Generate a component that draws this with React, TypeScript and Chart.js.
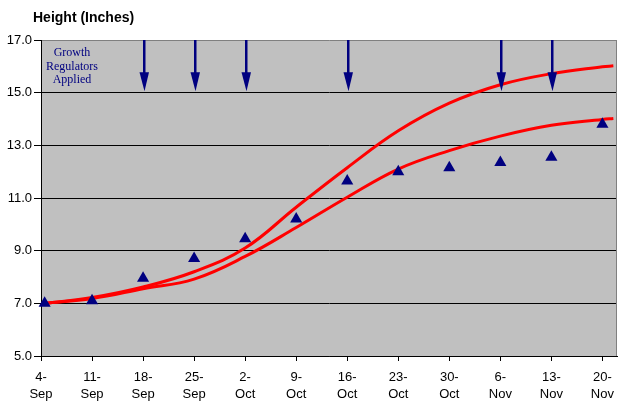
import { useEffect, useRef } from 'react';
import { Chart, registerables } from 'chart.js';

Chart.register(...registerables);

// ---- data ----
const weekLabels: string[][] = [
  ['4-', 'Sep'], ['11-', 'Sep'], ['18-', 'Sep'], ['25-', 'Sep'],
  ['2-', 'Oct'], ['9-', 'Oct'], ['16-', 'Oct'], ['23-', 'Oct'],
  ['30-', 'Oct'], ['6-', 'Nov'], ['13-', 'Nov'], ['20-', 'Nov'],
];
const tickDays = [0, 7, 14, 21, 28, 35, 42, 49, 56, 63, 70, 77];
const measuredDays = [0.5, 7, 14, 21, 28, 35, 42, 49, 56, 63, 70, 77];
const measuredHeights = [7.0, 7.1, 7.95, 8.7, 9.45, 10.2, 11.65, 12.0, 12.15, 12.35, 12.55, 13.8];
const curveDays = [0.5, 7, 14, 21, 28, 35, 42, 49, 56, 63, 70, 77, 78.5];
const upperCurve = [7.0, 7.22, 7.62, 8.2, 9.1, 10.65, 12.15, 13.55, 14.6, 15.3, 15.72, 15.98, 16.02];
const lowerCurve = [7.0, 7.18, 7.55, 7.92, 8.78, 9.88, 11.03, 12.1, 12.8, 13.35, 13.76, 13.98, 14.02];
const arrowDays = [14, 21, 28, 42, 63, 70];
const arrowTipValue = 15.05;
const yTicks = [5, 7, 9, 11, 13, 15, 17];
const xMin = 0;
const xMax = 79;
const yMin = 5;
const yMax = 17;
const titleText = 'Height (Inches)';
const noteLines = ['Growth', 'Regulators', 'Applied'];

const NAVY = '#000080';
const SANS = '"Liberation Sans", Arial, sans-serif';
const SERIF = '"Liberation Serif", "Times New Roman", serif';

const decorPlugin = {
  id: 'decor',
  beforeDraw(chart: any) {
    const { ctx, chartArea: a } = chart;
    ctx.save();
    ctx.fillStyle = '#ffffff';
    ctx.fillRect(0, 0, chart.width, chart.height);
    ctx.fillStyle = '#c0c0c0';
    ctx.fillRect(a.left, a.top, a.right - a.left, a.bottom - a.top);
    ctx.restore();
  },
  beforeDatasetsDraw(chart: any) {
    const { ctx, chartArea: a } = chart;
    ctx.save();
    ctx.strokeStyle = '#808080';
    ctx.lineWidth = 1;
    ctx.beginPath();
    ctx.moveTo(Math.round(a.right) - 0.5, a.top);
    ctx.lineTo(Math.round(a.right) - 0.5, a.bottom);
    ctx.stroke();
    ctx.restore();
  },
  afterDatasetsDraw(chart: any) {
    const { ctx, scales } = chart;
    const xs = scales.x;
    const ys = scales.y;
    ctx.save();
    ctx.fillStyle = NAVY;
    const top = ys.getPixelForValue(yMax);
    const tip = ys.getPixelForValue(arrowTipValue);
    arrowDays.forEach((d) => {
      const x = Math.round(xs.getPixelForValue(d)) + 1;
      const headLen = 19;
      ctx.fillRect(x - 1, top, 2.5, tip - top - headLen + 2);
      ctx.beginPath();
      ctx.moveTo(x - 4.5, tip - headLen);
      ctx.lineTo(x + 5, tip - headLen);
      ctx.lineTo(x + 0.5, tip);
      ctx.closePath();
      ctx.fill();
    });
    ctx.restore();
  },
  afterDraw(chart: any) {
    const { ctx } = chart;
    ctx.save();
    ctx.fillStyle = '#000000';
    ctx.font = `bold 14px ${SANS}`;
    ctx.textAlign = 'left';
    ctx.textBaseline = 'alphabetic';
    ctx.fillText(titleText, 33, 22);
    ctx.fillStyle = NAVY;
    ctx.font = `12px ${SERIF}`;
    ctx.textAlign = 'center';
    noteLines.forEach((t, i) => {
      ctx.fillText(t, 72, 56 + i * 13.5);
    });
    ctx.restore();
  },
};

export default function App() {
  const ref = useRef<HTMLCanvasElement | null>(null);

  useEffect(() => {
    if (!ref.current) return;
    const chart = new Chart(ref.current, {
      type: 'scatter',
      data: {
        datasets: [
          {
            label: 'Measured',
            data: measuredDays.map((d, i) => ({ x: d, y: measuredHeights[i] })),
            pointStyle: 'triangle',
            pointRadius: 7,
            pointHoverRadius: 7,
            backgroundColor: NAVY,
            borderColor: NAVY,
            borderWidth: 0,
            showLine: false,
            clip: false,
          } as any,
          {
            label: 'Upper',
            data: curveDays.map((d, i) => ({ x: d, y: upperCurve[i] })),
            showLine: true,
            borderColor: '#ff0000',
            borderWidth: 3,
            pointRadius: 0,
            tension: 0.4,
          },
          {
            label: 'Lower',
            data: curveDays.map((d, i) => ({ x: d, y: lowerCurve[i] })),
            showLine: true,
            borderColor: '#ff0000',
            borderWidth: 3,
            pointRadius: 0,
            tension: 0.4,
          },
        ],
      },
      options: {
        animation: false,
        responsive: false,
        events: [],
        layout: { padding: { top: 40, right: 8, left: 0, bottom: 0 } },
        plugins: {
          legend: { display: false },
          tooltip: { enabled: false },
          title: { display: false },
        },
        scales: {
          x: {
            type: 'linear',
            min: xMin,
            max: xMax,
            afterBuildTicks: (s: any) => {
              s.ticks = tickDays.map((v) => ({ value: v }));
            },
            afterFit: (s: any) => {
              s.height = 54;
            },
            ticks: {
              autoSkip: false,
              maxRotation: 0,
              minRotation: 0,
              padding: 8,
              color: '#000000',
              font: { family: SANS, size: 13, lineHeight: 1.3 },
              callback: (_v: any, i: number) => weekLabels[i],
            },
            grid: {
              drawOnChartArea: false,
              drawTicks: true,
              tickLength: 5,
              tickColor: '#000000',
              color: '#000000',
            },
            border: { color: '#000000', width: 1 },
          },
          y: {
            type: 'linear',
            min: yMin,
            max: yMax,
            afterBuildTicks: (s: any) => {
              s.ticks = yTicks.map((v) => ({ value: v }));
            },
            afterFit: (s: any) => {
              s.width = 41;
            },
            ticks: {
              padding: 2,
              color: '#000000',
              font: { family: SANS, size: 13 },
              callback: (v: any) => Number(v).toFixed(1),
            },
            grid: {
              color: (c: any) => (c.tick && c.tick.value === yMax ? '#808080' : '#000000'),
              tickColor: '#000000',
              tickLength: 7,
              lineWidth: 1,
            },
            border: { color: '#000000', width: 1 },
          },
        },
      },
      plugins: [decorPlugin],
    });
    return () => chart.destroy();
  }, []);

  return (
    <div style={{ position: 'absolute', left: 0, top: 0, width: 625, height: 410, background: '#fff' }}>
      <canvas ref={ref} width={625} height={410} />
    </div>
  );
}
